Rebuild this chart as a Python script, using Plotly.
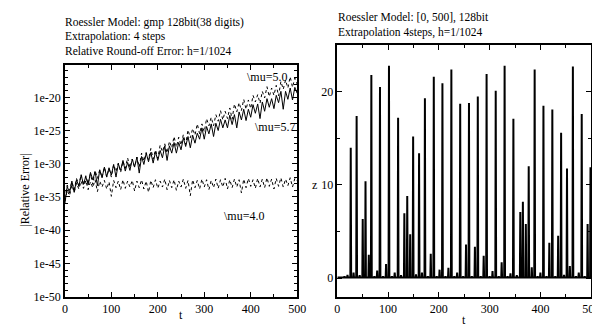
import plotly.graph_objects as go

# ---------------- data: left panel (log10 of |relative error|) ----------------
t_err = list(range(0, 501, 5))

log_err_mu57 = [
    -36.0, -33.4, -34.4, -32.6, -34.3, -32.4, -33.4, -31.7, -33.1, -31.9,
    -33.2, -31.3, -32.4, -31.2, -33.3, -30.9, -32.1, -30.5, -32.0, -30.6,
    -31.7, -30.1, -32.0, -30.0, -31.0, -29.5, -31.1, -29.8, -31.0, -29.3,
    -30.5, -29.0, -31.4, -28.9, -30.1, -28.4, -29.7, -28.3, -29.9, -28.2,
    -29.5, -28.0, -29.1, -27.3, -29.5, -27.3, -28.4, -26.8, -28.4, -26.8,
    -27.9, -26.1, -27.4, -25.9, -27.6, -25.7, -26.9, -25.4, -26.3, -24.6,
    -26.3, -24.4, -25.5, -24.0, -25.9, -23.9, -25.0, -23.3, -24.6, -23.4,
    -24.6, -22.7, -24.1, -22.6, -24.6, -22.2, -23.4, -21.8, -23.5, -21.8,
    -23.0, -21.1, -22.4, -21.0, -23.2, -20.7, -22.1, -20.2, -21.5, -20.2,
    -21.7, -19.7, -20.8, -19.1, -21.8, -19.1, -20.3, -18.6, -20.4, -18.5,
    -19.4,
]

log_err_mu50 = [
    -35.2, -33.2, -34.0, -32.7, -33.9, -32.2, -33.2, -31.6, -33.2, -31.8,
    -33.0, -31.5, -33.1, -31.0, -32.2, -30.9, -32.1, -30.5, -32.0, -30.7,
    -32.0, -30.1, -31.2, -29.9, -31.3, -29.6, -30.7, -29.1, -30.6, -29.3,
    -30.5, -29.0, -30.5, -28.4, -29.6, -28.3, -29.4, -27.7, -29.3, -27.9,
    -29.2, -27.2, -28.2, -27.0, -28.4, -26.6, -27.6, -25.9, -27.5, -26.0,
    -27.2, -25.6, -27.1, -24.9, -26.1, -24.7, -25.7, -24.0, -25.5, -24.0,
    -25.2, -23.2, -24.3, -23.0, -24.3, -22.6, -23.6, -22.0, -23.4, -22.1,
    -23.2, -21.6, -23.3, -21.0, -22.2, -20.8, -22.0, -20.3, -21.8, -20.4,
    -21.7, -19.7, -20.7, -19.6, -20.9, -19.1, -20.1, -18.4, -19.9, -18.6,
    -19.7, -18.2, -19.8, -17.6, -18.8, -17.4, -18.6, -16.9, -18.5, -17.1,
    -18.0,
]

log_err_mu40 = [
    -35.6, -34.0, -34.8, -33.2, -34.3, -32.9, -33.8, -32.6, -33.7, -32.5,
    -33.9, -32.7, -33.6, -32.4, -34.2, -32.6, -33.5, -32.5, -33.8, -32.7,
    -34.9, -32.5, -33.6, -32.6, -33.9, -32.4, -33.7, -32.6, -33.5, -32.5,
    -34.1, -32.6, -33.6, -32.4, -33.8, -32.6, -34.3, -32.5, -33.6, -32.4,
    -33.7, -32.6, -33.5, -32.3, -33.9, -32.5, -33.6, -32.4, -34.0, -32.6,
    -33.5, -32.3, -33.7, -32.5, -34.8, -32.4, -33.6, -32.5, -33.8, -32.3,
    -33.5, -32.4, -33.9, -32.5, -33.6, -32.3, -33.7, -32.4, -33.5, -32.2,
    -33.8, -32.4, -33.6, -32.3, -33.5, -32.4, -34.4, -32.3, -33.6, -32.2,
    -33.4, -32.4, -33.7, -32.2, -33.5, -32.3, -33.6, -32.1, -33.4, -32.3,
    -33.8, -32.2, -33.4, -32.1, -33.5, -32.3, -33.3, -32.1, -33.5, -32.2,
    -32.6,
]

err_tick_exp = [-50, -45, -40, -35, -30, -25, -20]
err_tick_text = ["1e-50", "1e-45", "1e-40", "1e-35", "1e-30", "1e-25", "1e-20"]
err_minor_exp = list(range(-50, -15))

# ---------------- data: right panel (z(t) spikes) ----------------
spike_t = [8, 14, 20, 26.4, 32, 38, 44, 50, 55.5, 62, 67, 73, 78.5, 84, 90, 96,
           101.7, 107.5, 113, 119.7, 125.5, 132, 137.7, 143.5, 149.3, 155, 161,
           166.7, 172.5, 178.3, 184, 190, 195.7, 201.4, 207, 213, 218.8, 224.6,
           230.4, 236, 242, 247.8, 253.5, 259.3, 265, 271, 276.7, 282.5, 288.3,
           294, 300, 305.7, 312, 318, 323.7, 329.5, 335.3, 341, 346.8, 353.5,
           360.4, 365.5, 371.3, 377, 383, 388.7, 394.5, 400, 406, 412, 417.6,
           423.5, 429.3, 435, 440.8, 446.6, 452.4, 458, 464, 470, 475.6, 481.4,
           487.2, 493, 498.7]
spike_z = [0.1, 0.2, 0.35, 14.0, 0.6, 17.4, 0.3, 6.35, 10.4, 2.5, 21.8, 0.2, 0.8,
           20.5, 0.2, 1.5, 22.8, 0.2, 0.6, 17.2, 0.3, 6.95, 8.8, 4.7, 15.2, 0.4,
           13.4, 0.6, 19.3, 0.2, 2.6, 21.6, 0.2, 0.9, 20.9, 0.2, 1.1, 22.4, 0.2,
           0.6, 18.7, 0.2, 3.6, 18.8, 0.2, 3.35, 19.5, 0.2, 2.4, 21.9, 0.2, 0.75,
           20.1, 0.2, 1.7, 22.8, 0.2, 0.5, 17.1, 0.3, 7.1, 8.2, 5.8, 12.0, 1.15,
           22.4, 0.2, 0.6, 18.5, 0.2, 3.8, 18.1, 0.2, 4.55, 15.6, 0.35, 11.75,
           1.3, 22.7, 0.2, 0.6, 17.6, 0.2, 5.8, 11.9]
BASE_Z = 0.05          # z between the spikes
SPIKE_HALF_WIDTH = 0.8  # half width of a spike in t

z_t, z_v = [0.0], [BASE_Z]
for tc, h in zip(spike_t, spike_z):
    z_t += [tc - SPIKE_HALF_WIDTH, tc, tc + SPIKE_HALF_WIDTH]
    z_v += [BASE_Z, h, BASE_Z]
z_t.append(500.0)
z_v.append(BASE_Z)

# ---------------- figure ----------------
W, H = 600, 327
FONT = "Liberation Serif, Times New Roman, serif"


def px(x):
    return x / W


def py(y):
    return 1 - y / H


fig = go.Figure()

fig.add_trace(go.Scatter(x=t_err, y=[10 ** e for e in log_err_mu40], mode="lines",
                         line=dict(color="black", width=1, dash="dot"),
                         xaxis="x", yaxis="y", showlegend=False))
fig.add_trace(go.Scatter(x=t_err, y=[10 ** e for e in log_err_mu50], mode="lines",
                         line=dict(color="black", width=1, dash="dot"),
                         xaxis="x", yaxis="y", showlegend=False))
fig.add_trace(go.Scatter(x=t_err, y=[10 ** e for e in log_err_mu57], mode="lines",
                         line=dict(color="black", width=1),
                         xaxis="x", yaxis="y", showlegend=False))

fig.add_trace(go.Scatter(x=z_t, y=z_v, mode="lines",
                         line=dict(color="black", width=2),
                         xaxis="x2", yaxis="y2", showlegend=False))

axis_common = dict(showline=True, linecolor="black", linewidth=1.5, mirror="allticks",
                   ticks="inside", ticklen=5, tickwidth=1, tickcolor="black",
                   showgrid=False, zeroline=False,
                   tickfont=dict(family=FONT, size=12, color="black"))

fig.update_layout(
    width=W, height=H, margin=dict(l=0, r=0, t=0, b=0),
    paper_bgcolor="white", plot_bgcolor="white",
    font=dict(family=FONT, size=12, color="black"),
    xaxis=dict(domain=[px(55), px(292)], anchor="y", range=[0, 500], dtick=100,
               minor=dict(dtick=50, ticks="inside", ticklen=3, tickcolor="black"),
               **axis_common),
    yaxis=dict(domain=[py(295), py(58)], anchor="x", type="log", range=[-50, -15.1],
               tickmode="array", tickvals=[10 ** e for e in err_tick_exp],
               ticktext=err_tick_text,
               minor=dict(tickmode="array", tickvals=[10 ** e for e in err_minor_exp],
                          ticks="inside", ticklen=3, tickcolor="black"),
               **axis_common),
    xaxis2=dict(domain=[px(333), px(592)], anchor="y2", range=[0, 500], dtick=100,
                minor=dict(dtick=50, ticks="inside", ticklen=3, tickcolor="black"),
                **axis_common),
    yaxis2=dict(domain=[py(295), py(38)], anchor="x2", range=[-2, 25],
                tickvals=[0, 10, 20],
                minor=dict(tickvals=[5, 15], ticks="inside", ticklen=3, tickcolor="black"),
                **axis_common),
)

tf = dict(family=FONT, size=11.5, color="black")
ann = []
for i, txt in enumerate(["Roessler Model: gmp 128bit(38 digits)",
                         "Extrapolation: 4 steps",
                         "Relative Round-off Error: h=1/1024"]):
    ann.append(dict(text=txt, x=px(53), y=py(15 + 14.5 * i), xref="paper", yref="paper",
                    xanchor="left", yanchor="middle", showarrow=False, font=tf))
for i, txt in enumerate(["Roessler Model: [0, 500], 128bit",
                         "Extrapolation 4steps, h=1/1024"]):
    ann.append(dict(text=txt, x=px(332), y=py(10 + 15 * i), xref="paper", yref="paper",
                    xanchor="left", yanchor="middle", showarrow=False, font=tf))

lf = dict(family=FONT, size=12, color="black")
ann += [
    dict(text="t", x=px(173.5), y=py(314), xref="paper", yref="paper",
         xanchor="center", yanchor="middle", showarrow=False, font=lf),
    dict(text="t", x=px(462.5), y=py(319), xref="paper", yref="paper",
         xanchor="center", yanchor="middle", showarrow=False, font=lf),
    dict(text="|Relative Error|", x=px(14), y=py(186), xref="paper", yref="paper",
         xanchor="center", yanchor="middle", textangle=-90, showarrow=False, font=lf),
    dict(text="z", x=px(310), y=py(181), xref="paper", yref="paper",
         xanchor="center", yanchor="middle", showarrow=False, font=lf),
    dict(text="\\mu=5.0", x=483, y=-17.0, xref="x", yref="y",
         xanchor="right", yanchor="middle", showarrow=False, font=lf),
    dict(text="\\mu=5.7", x=500, y=-24.4, xref="x", yref="y",
         xanchor="right", yanchor="middle", showarrow=False, font=lf),
    dict(text="\\mu=4.0", x=385, y=-37.8, xref="x", yref="y",
         xanchor="center", yanchor="middle", showarrow=False, font=lf),
]
fig.update_layout(annotations=ann)

fig.write_html("out.html")
